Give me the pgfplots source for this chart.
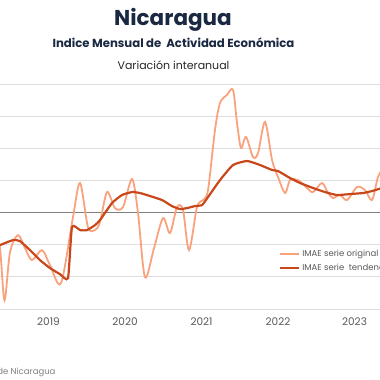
\documentclass[border=0pt]{standalone}
\usepackage{pgfplots}
\pgfplotsset{compat=1.18}
\usepackage{fontspec}
\setmainfont{Poppins}
\definecolor{orig}{RGB}{249,162,126}
\definecolor{trend}{RGB}{200,72,28}
\definecolor{navy}{RGB}{27,40,66}
\definecolor{gridc}{RGB}{222,222,222}
\definecolor{ticktext}{RGB}{89,89,89}
\begin{document}
\begin{tikzpicture}[x=1pt,y=1pt]
\useasboundingbox (0,0) rectangle (380,380);
\node[font=\bfseries\fontsize{21.5}{24}\selectfont, text=navy] at (173,360) {Nicaragua};
\node[font=\bfseries\fontsize{11.7}{13}\selectfont, text=navy] at (173.5,337) {Indice Mensual de\ \ Actividad Económica};
\node[font=\fontsize{11}{13}\selectfont, text=black!85] at (173.5,315) {Variación interanual};
\node[anchor=east, font=\fontsize{8.5}{10}\selectfont, text=black!50] at (59,8) {Fuente: Banco Central de Nicaragua};
\begin{axis}[at={(0pt,71pt)}, anchor=south west, scale only axis,
  width=380pt, height=225pt,
  xmin=2018.366, xmax=2023.333, ymin=-15, ymax=20,
  axis line style={draw=none}, major tick length=0pt,
  ytick={-15,-10,-5,5,10,15,20}, yticklabels={},
  ymajorgrids, grid style={gridc, line width=0.9pt},
  extra y ticks={0}, extra y tick labels={},
  extra y tick style={grid style={black!50, line width=0.8pt}},
  xtick={2019,2020,2021,2022,2023},
  xticklabels={2019,2020,2021,2022,2023},
  xticklabel style={font=\fontsize{10.5}{12}\selectfont, text=ticktext, yshift=-5pt},
  clip=true,
  legend style={at={(0.734,0.272)}, anchor=north west, draw=none, fill=none,
    font=\fontsize{8.5}{10}\selectfont, text=ticktext, inner sep=0pt, row sep=2pt,
    nodes={inner sep=2pt}},
  legend cell align=left,
  legend image code/.code={\draw[#1] (0pt,0pt) -- (19pt,0pt);},
]
\addplot[orig, line width=1.8pt, smooth, tension=0.5] coordinates {
(2018.300,-3.0) (2018.366,-5.53) (2018.425,-13.63) (2018.497,-6.15) (2018.601,-3.50)
(2018.693,-5.53) (2018.784,-7.40) (2018.915,-5.84) (2019.020,-8.18)
(2019.163,-10.98) (2019.320,-0.70) (2019.412,4.60) (2019.516,-2.26)
(2019.608,-2.73) (2019.673,-1.48) (2019.765,3.19) (2019.869,0.70)
(2019.974,0.86) (2020.092,5.22) (2020.170,-0.08) (2020.261,-10.05)
(2020.379,-5.53) (2020.497,-0.86) (2020.588,-3.19) (2020.680,0.86)
(2020.758,0.39) (2020.837,-5.84) (2020.941,0.86) (2021.020,1.95)
(2021.085,3.50) (2021.176,12.85) (2021.242,17.06) (2021.333,18.30)
(2021.412,19.08) (2021.464,13.94) (2021.516,10.05) (2021.582,11.76)
(2021.673,8.64) (2021.739,9.27) (2021.830,14.10) (2021.922,8.18)
(2022.000,5.53) (2022.092,3.04) (2022.157,5.06) (2022.261,5.06)
(2022.379,3.82) (2022.458,3.19) (2022.575,4.60) (2022.654,3.04)
(2022.719,2.26) (2022.810,2.73) (2022.902,1.95) (2023.033,3.97)
(2023.137,3.50) (2023.229,1.95) (2023.307,5.53) (2023.399,7.40)
};
\addlegendentry{IMAE serie original}
\addplot[trend, line width=2.2pt, smooth, tension=0.3] coordinates {
(2018.300,-5.4) (2018.366,-5.06) (2018.536,-4.28) (2018.627,-4.44) (2018.758,-5.84)
(2018.889,-7.40) (2019.020,-8.64) (2019.150,-9.58) (2019.255,-10.20)
(2019.307,-2.26) (2019.412,-2.73) (2019.503,-2.73) (2019.608,-1.95)
(2019.673,-1.17) (2019.830,1.48) (2019.961,2.73) (2020.092,3.19)
(2020.196,3.04) (2020.327,2.57) (2020.484,1.95) (2020.614,1.01)
(2020.719,0.55) (2020.810,0.70) (2020.915,1.01) (2021.007,1.17)
(2021.085,2.41) (2021.242,5.06) (2021.412,7.40) (2021.595,8.02)
(2021.765,7.40) (2021.922,6.62) (2022.000,6.46) (2022.157,5.37)
(2022.288,4.60) (2022.458,3.82) (2022.614,3.19) (2022.771,2.73)
(2022.941,2.88) (2023.111,3.04) (2023.229,3.35) (2023.399,3.97)
};
\addlegendentry{IMAE serie\ \ tendencia}
\end{axis}
\end{tikzpicture}
\end{document}
